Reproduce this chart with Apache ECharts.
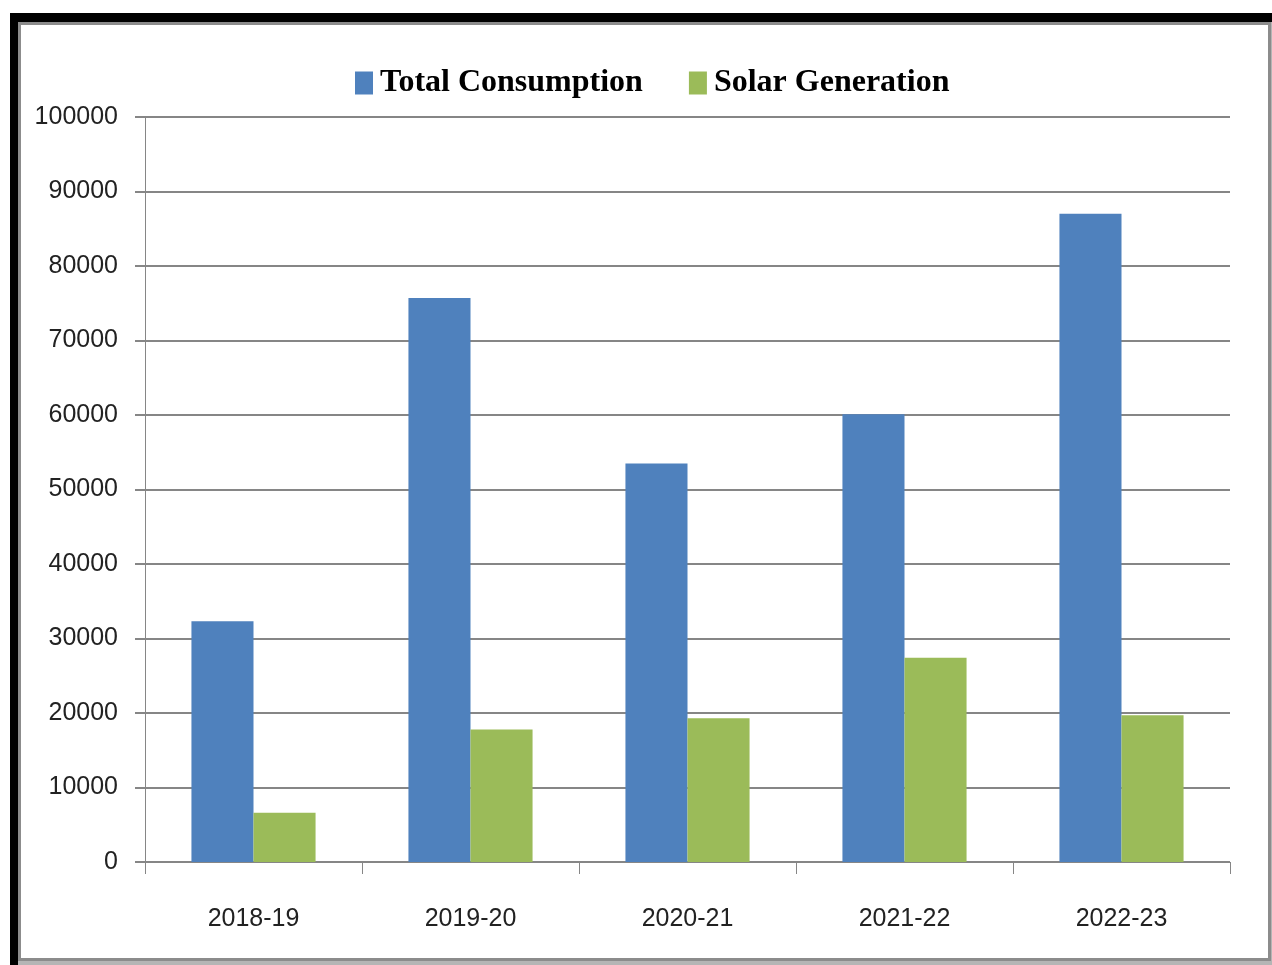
<!DOCTYPE html>
<html>
<head>
<meta charset="utf-8">
<script src="https://cdn.jsdelivr.net/npm/echarts@6/dist/echarts.min.js"></script>
<style>
  html, body { margin: 0; padding: 0; background: #fff; }
  #chart { width: 1272px; height: 965px; }
</style>
</head>
<body>
<div id="chart"></div>
<script>
const years = ['2018-19', '2019-20', '2020-21', '2021-22', '2022-23'];
const totalConsumption = [32300, 75700, 53500, 60100, 87000];
const solarGeneration = [6600, 17800, 19300, 27400, 19700];
const seriesNames = ['Total Consumption', 'Solar Generation'];

const labelFont = "'Liberation Sans Narrow', 'Arial Narrow', 'Liberation Sans', sans-serif";
const gridColor = '#868686';

const chart = echarts.init(document.getElementById('chart'), null, { renderer: 'canvas' });

chart.setOption({
    backgroundColor: '#fff',
    animation: false,
    graphic: [
        // chart frame: dark left/top edge, grey border
        { type: 'rect', z: -10, shape: { x: 10, y: 13, width: 1262, height: 952 }, style: { fill: '#000' } },
        { type: 'rect', z: -9, shape: { x: 18, y: 22, width: 1254, height: 943 }, style: { fill: '#b5b5b5' } },
        { type: 'rect', z: -8, shape: { x: 19.5, y: 23.5, width: 1250, height: 936 }, style: { fill: '#fff', stroke: '#8c8c8c', lineWidth: 3 } }
    ],
    legend: {
        left: 350,
        top: 62,
        itemWidth: 18,
        itemHeight: 23,
        itemGap: 46,
        icon: 'rect',
        textStyle: {
            fontFamily: "'Liberation Serif', 'Times New Roman', serif",
            fontWeight: 'bold',
            fontSize: 32,
            color: '#000',
            padding: [0, 0, 0, 2]
        },
        data: seriesNames
    },
    grid: { left: 145, right: 42, top: 117, bottom: 103 },
    xAxis: {
        type: 'category',
        data: years,
        axisLine: { show: true, lineStyle: { color: gridColor, width: 1 } },
        axisTick: { show: true, length: 12, lineStyle: { color: gridColor } },
        axisLabel: { margin: 45, fontFamily: labelFont, fontSize: 25, color: '#222' }
    },
    yAxis: {
        type: 'value',
        min: 0,
        max: 100000,
        interval: 10000,
        axisLine: { show: true, lineStyle: { color: gridColor, width: 1 } },
        axisTick: { show: true, length: 10, lineStyle: { color: gridColor, width: 2 } },
        axisLabel: { margin: 27, fontFamily: labelFont, fontSize: 25, color: '#222', formatter: v => String(v) },
        splitLine: { show: true, lineStyle: { color: gridColor, width: 2 } }
    },
    series: [
        {
            name: seriesNames[0],
            type: 'bar',
            data: totalConsumption,
            barWidth: '28.6%',
            barGap: '0%',
            itemStyle: { color: '#4f81bd' }
        },
        {
            name: seriesNames[1],
            type: 'bar',
            data: solarGeneration,
            barWidth: '28.6%',
            itemStyle: { color: '#9bbb59' }
        }
    ]
});
</script>
</body>
</html>
